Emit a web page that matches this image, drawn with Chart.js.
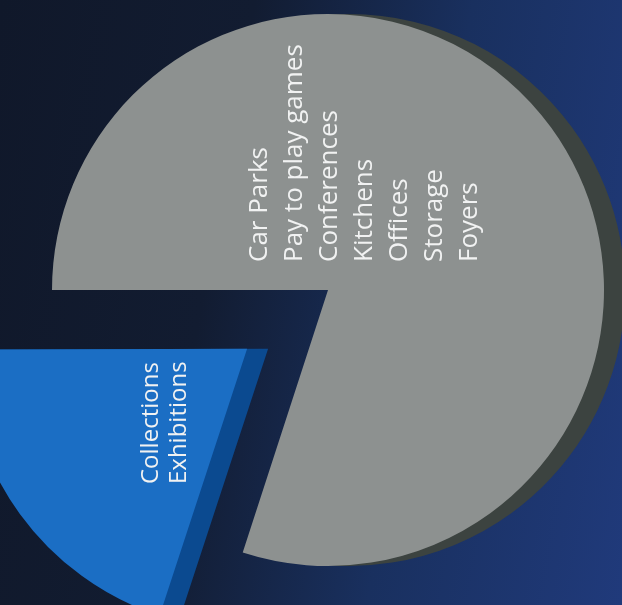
<!DOCTYPE html>
<html lang="en">
<head>
<meta charset="UTF-8">
<title>Space use</title>
<script src="https://cdn.jsdelivr.net/npm/chart.js@4.4.0/dist/chart.umd.min.js"></script>
<style>
  html, body { margin: 0; padding: 0; }
  body {
    width: 622px; height: 605px; overflow: hidden; position: relative;
    background: linear-gradient(100deg, #10182a 0%, #121c31 35%, #19305f 65%, #203a7b 100%);
  }
  canvas { position: absolute; left: 0; top: 0; }
</style>
</head>
<body>
<canvas id="shadow" width="622" height="605"></canvas>
<canvas id="pie" width="622" height="605"></canvas>
<script>
// the two slices and what they hold
const greyItems = ['Car Parks', 'Pay to play games', 'Conferences', 'Kitchens', 'Offices', 'Storage', 'Foyers'];
const blueItems = ['Collections', 'Exhibitions'];
const sliceLabels = [greyItems.join(', '), blueItems.join(', ')];
const shares = [80, 20];

const faceColours = ['#8d9190', '#1b6ec4'];
const sideColours = ['#3c4340', '#0b4a90'];

// slice names written on the slices, turned on their side
const sliceText = {
  id: 'sliceText',
  afterDatasetsDraw(chart) {
    const arc = chart.getDatasetMeta(0).data[0];
    const cx = arc.x, cy = arc.y;
    const ctx = chart.ctx;
    ctx.save();
    ctx.fillStyle = '#f1f2f2';
    ctx.textAlign = 'left';
    ctx.textBaseline = 'middle';
    ctx.font = '500 26px "Open Sans"';
    greyItems.forEach((t, i) => {
      ctx.save();
      ctx.translate(cx - 68 + i * 35, cy - 28);
      ctx.rotate(-Math.PI / 2);
      ctx.fillText(t, 0, 0);
      ctx.restore();
    });
    ctx.font = '500 24px "Open Sans"';
    blueItems.forEach((t, i) => {
      ctx.save();
      ctx.translate(cx - 177 + i * 28, cy + 194);
      ctx.rotate(-Math.PI / 2);
      ctx.fillText(t, 0, 0);
      ctx.restore();
    });
    ctx.restore();
  }
};

function makePie(id, colours, padding, plugins) {
  return new Chart(document.getElementById(id), {
    type: 'pie',
    data: {
      labels: sliceLabels,
      datasets: [{
        data: shares,
        backgroundColor: colours,
        borderWidth: 0,
        offset: [0, 400],
        radius: 276
      }]
    },
    options: {
      responsive: false,
      animation: false,
      devicePixelRatio: 1,
      rotation: 270,
      layout: { padding: padding },
      plugins: { legend: { display: false }, tooltip: { enabled: false } },
      events: []
    },
    plugins: plugins
  });
}

// side of the pie, shifted right, behind the faces
makePie('shadow', sideColours, { left: 76, right: 0, top: 0, bottom: 25 }, []);
makePie('pie', faceColours, { left: 34, right: 0, top: 0, bottom: 25 }, [sliceText]);
</script>
</body>
</html>
